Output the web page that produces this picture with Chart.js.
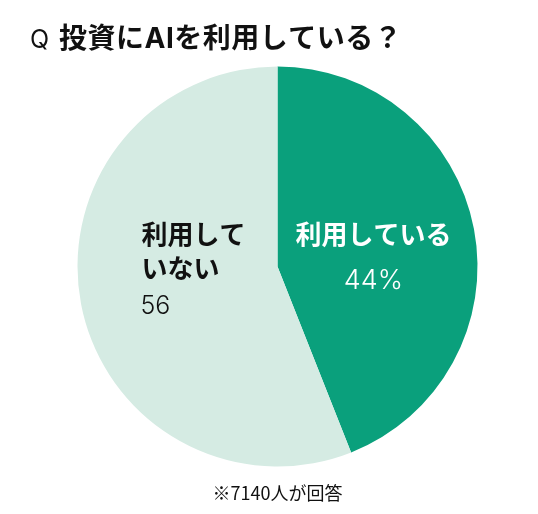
<!DOCTYPE html>
<html lang="ja">
<head>
    <meta charset="UTF-8">
    <title>投資にAIを利用している？</title>
    <style>
        * { margin: 0; padding: 0; box-sizing: border-box; }
        body { background: #fff; width: 538px; height: 514px; overflow: hidden; }
        .wrap { position: relative; width: 538px; height: 514px; }
    </style>
</head>
<body>
<div class="wrap">
    <canvas id="pieChart" width="538" height="514"></canvas>
</div>

<script src="https://cdn.jsdelivr.net/npm/chart.js"></script>
<script>
    // データ
    const categories = ["利用している", "利用していない"];
    const values = [44, 56];
    const valueLabels = ["44%", "56"];
    const colors = ["#0aa07c", "#d5ebe3"];

    const titleText = "投資にAIを利用している？";
    const noteText = "※7140人が回答";
    const jp = '"Noto Sans CJK JP", "Noto Sans", sans-serif';
    const mix = 'Inter, "Noto Sans CJK JP", sans-serif';

    // タイトル・注記・ラベルを描く
    const textPlugin = {
        id: "texts",
        afterDraw(chart) {
            const ctx = chart.ctx;
            const arc = chart.getDatasetMeta(0).data[0];
            const cx = arc.x, cy = arc.y;
            ctx.save();
            ctx.textBaseline = "middle";

            // title
            ctx.fillStyle = "#111";
            ctx.textAlign = "left";
            ctx.font = "400 25px " + mix;
            ctx.fillText("Q", 30, 40);
            ctx.font = "700 28px " + mix;
            ctx.letterSpacing = "0.5px";
            ctx.fillText(titleText, 59, 40);
            ctx.letterSpacing = "0px";

            // footnote
            ctx.textAlign = "center";
            ctx.font = "400 18px " + jp;
            ctx.fillText(noteText, cx, 493);

            // 利用している
            ctx.fillStyle = "#fff";
            ctx.font = "700 26px " + jp;
            ctx.fillText(categories[0], cx + 96, cy - 32);
            ctx.font = "300 27px " + mix;
            ctx.fillText(valueLabels[0], cx + 96, cy + 14);

            // 利用していない
            ctx.fillStyle = "#111";
            ctx.textAlign = "left";
            ctx.font = "700 26px " + jp;
            ctx.fillText(categories[1].slice(0, 4), cx - 136, cy - 32);
            ctx.fillText(categories[1].slice(4), cx - 136, cy + 2);
            ctx.font = "300 25px " + mix;
            ctx.fillText(valueLabels[1], cx - 137, cy + 40);
            ctx.restore();
        }
    };

    new Chart(document.getElementById("pieChart"), {
        type: "pie",
        data: {
            labels: categories,
            datasets: [{
                data: values,
                backgroundColor: colors,
                borderWidth: 0
            }]
        },
        options: {
            responsive: false,
            animation: false,
            layout: { padding: { top: 66.5, bottom: 47.5, left: 77.5, right: 60.5 } },
            plugins: {
                legend: { display: false },
                tooltip: { enabled: false },
                title: { display: false }
            }
        },
        plugins: [textPlugin]
    });
</script>
</body>
</html>
